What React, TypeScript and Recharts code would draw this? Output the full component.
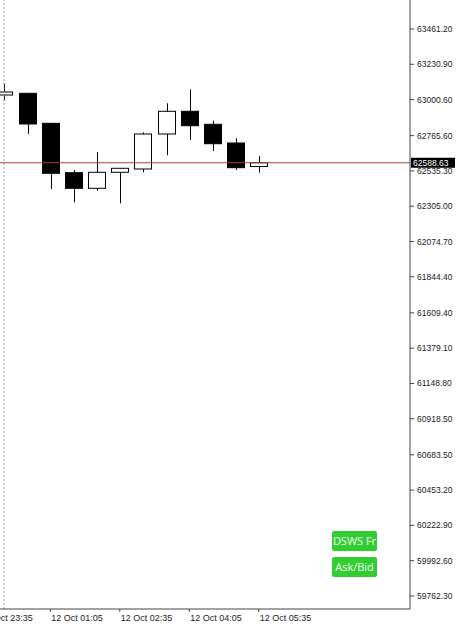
import {ComposedChart, Bar, XAxis, YAxis, ReferenceLine} from "recharts";

const OPENS = [63030.7, 63041.7, 62846.0, 62523.8, 62422.0, 62526.4, 62547.9, 62776.2, 62924.3, 62839.5, 62717.5, 62564.2]
const HIGHS = [63105.0, 63043.7, 62846.0, 62541.4, 62656.9, 62554.4, 62787.3, 62976.5, 63067.8, 62863.0, 62748.2, 62632.7]
const LOWS = [62995.0, 62776.2, 62417.4, 62330.7, 62406.3, 62324.1, 62526.4, 62637.3, 62737.1, 62665.3, 62541.4, 62523.8]
const CLOSES = [63050.2, 62841.5, 62519.9, 62422.0, 62526.4, 62552.5, 62776.2, 62924.3, 62830.4, 62712.9, 62556.4, 62588.63]

const PRICE_TICKS = [63461.2, 63230.9, 63000.6, 62765.6, 62535.3, 62305.0, 62074.7, 61844.4, 61609.4, 61379.1, 61148.8, 60918.5, 60683.5, 60453.2, 60222.9, 59992.6, 59762.3]
const TIME_TICKS = [-1, 2, 5, 8, 11]
const TIME_LABELS = ["11 Oct 23:35", "12 Oct 01:05", "12 Oct 02:35", "12 Oct 04:05", "12 Oct 05:35"]
const BID = 62588.63

const data = OPENS.map((open, i) => ({
    i,
    open,
    high: HIGHS[i],
    low: LOWS[i],
    close: CLOSES[i],
    range: [LOWS[i], HIGHS[i]]
}))

const FONT = "'Liberation Sans', Arial, sans-serif"

const Candle = (props: any) => {
    const {x, y, width, height, payload} = props
    const top = Math.min(y, y + height)
    const h = Math.abs(height)
    const {open, close, high, low} = payload
    const k = h / (high - low)
    const yOf = (v: number) => top + (high - v) * k
    const cx = Math.round(x + width / 2) + 0.5
    const bull = close >= open
    const bTop = yOf(Math.max(open, close))
    const bBot = yOf(Math.min(open, close))
    return (
        <g>
            <line x1={cx} x2={cx} y1={top} y2={top + h} stroke="#000" strokeWidth={1}/>
            <rect
                x={Math.round(x) + 0.5}
                y={bTop}
                width={width - 1}
                height={Math.max(bBot - bTop, 1)}
                fill={bull ? "#fff" : "#000"}
                stroke="#000"
                strokeWidth={1}
            />
        </g>
    )
}

const TimeTick = (props: any) => {
    const {x, y, payload} = props
    const idx = TIME_TICKS.indexOf(payload.value)
    return (
        <g>
            <line x1={x} x2={x} y1={y} y2={y + 3} stroke="#444"/>
            <text x={x + 1} y={y + 12} fontSize={9} fontFamily={FONT} fill="#222" textAnchor="start">
                {TIME_LABELS[idx]}
            </text>
        </g>
    )
}

const BidLabel = (props: any) => {
    const {viewBox} = props
    const x = viewBox.x + viewBox.width + 1
    const y = viewBox.y
    return (
        <g>
            <rect x={x} y={y - 5} width={44} height={10} fill="#000"/>
            <text x={x + 2} y={y + 3.5} fontSize={8.5} fontFamily={FONT} fill="#fff">
                {BID.toFixed(2)}
            </text>
        </g>
    )
}

const btn: React.CSSProperties = {
    position: "absolute",
    left: 332,
    width: 45,
    height: 20,
    background: "#32cd32",
    color: "#f0fff0",
    borderRadius: 2,
    fontFamily: "'Open Sans', sans-serif",
    fontSize: 11,
    lineHeight: "20px",
    textAlign: "center"
}

const App = () => {
    return (
        <div style={{position: "relative", width: 456, height: 625, overflow: "hidden", background: "#fff"}}>
            <style>{`body{margin:0}`}</style>
            <div style={{position: "absolute", left: -40, top: 0}}>
                <ComposedChart width={496} height={625} data={data} margin={{top: 0, right: 0, bottom: 0, left: 0}}>
                    <XAxis
                        dataKey="i"
                        type="number"
                        domain={[-1.9, 17.53]}
                        allowDataOverflow
                        ticks={TIME_TICKS}
                        interval={0}
                        height={16}
                        stroke="#444"
                        tickLine={false}
                        tickSize={0}
                        tickMargin={0}
                        tick={<TimeTick/>}
                    />
                    <YAxis
                        orientation="right"
                        type="number"
                        domain={[59677.5, 63650.4]}
                        allowDataOverflow
                        ticks={PRICE_TICKS}
                        interval={0}
                        width={46}
                        stroke="#444"
                        tickSize={4}
                        tickMargin={3}
                        tickFormatter={(v: number) => v.toFixed(2)}
                        tick={{fontSize: 8.5, fontFamily: FONT, fill: "#222"}}
                    />
                    <Bar dataKey="range" barSize={18} shape={<Candle/>} isAnimationActive={false}/>
                    <ReferenceLine x={0} stroke="#999" strokeDasharray="2 2"/>
                    <ReferenceLine y={BID} stroke="#b33a3a" label={<BidLabel/>}/>
                </ComposedChart>
            </div>
            <div style={{...btn, top: 531}}>DSWS Fr</div>
            <div style={{...btn, top: 557}}>Ask/Bid</div>
        </div>
    )
}

export default App
